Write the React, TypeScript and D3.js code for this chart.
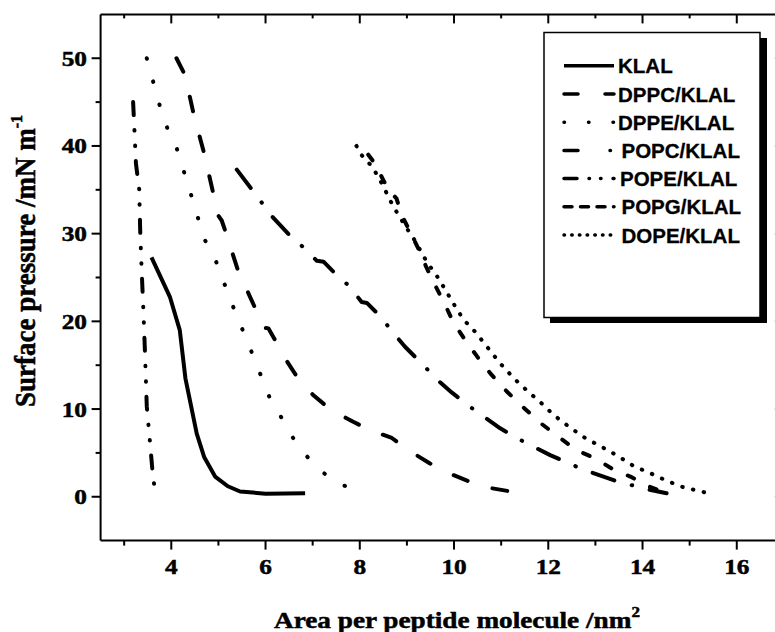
import React, { useEffect } from "react";
import * as d3 from "d3";

type Pt = [number, number];

const seriesNames = ["KLAL", "DPPC/KLAL", "DPPE/KLAL", "POPC/KLAL", "POPE/KLAL", "POPG/KLAL", "DOPE/KLAL"];

const klal: Pt[] = [[3.58, 27.3], [3.97, 22.8], [4.18, 19], [4.3, 13.5], [4.54, 7.2], [4.7, 4.5], [4.93, 2.3], [5.2, 1.2], [5.46, 0.6], [6.0, 0.35], [6.84, 0.4]];
const dppc: Pt[] = [[4.11, 50], [4.29, 48.1], [4.48, 43.5], [4.7, 39.1], [4.89, 34.6], [4.98, 32.2], [5.07, 31.5], [5.14, 30.4], [5.41, 25.9], [5.78, 21.5], [5.95, 19.3], [6.06, 19.2], [6.2, 17.9], [6.46, 15.4], [6.7, 13.4], [7.01, 11.6], [7.39, 9.9], [7.86, 8.55], [8.22, 7.6], [8.68, 6.7], [9.03, 5.3], [9.49, 3.8], [9.88, 2.7], [10.34, 1.7], [10.69, 1.07], [11.15, 0.65], [11.33, 0.54]];
const dppe: Pt[] = [[3.48, 50], [3.76, 44.5], [3.95, 41.5], [4.1, 40], [4.41, 34.6], [4.7, 29.4], [4.91, 27.4], [5.28, 22.1], [5.69, 16.7], [6.08, 11.4], [6.36, 8.8], [6.65, 6.1], [7.05, 3.5], [7.52, 1.5], [8.02, 0.7]];
const popc: Pt[] = [[5.39, 37.3], [5.73, 34.9], [6.15, 31.9], [6.53, 29.7], [6.79, 28.5], [7.09, 26.9], [7.23, 26.8], [7.47, 25.5], [7.78, 24.0], [8.04, 22.2], [8.15, 22.1], [8.43, 20.6], [8.68, 18.9], [8.96, 17.1], [9.35, 15.0], [9.63, 13.4], [9.95, 11.9], [10.38, 10.1], [10.98, 7.8], [11.4, 6.5], [12.04, 4.75], [12.74, 3.1], [13.49, 1.7], [14.12, 0.84], [14.51, 0.39]];
const pope: Pt[] = [[3.19, 45], [3.22, 41.6], [3.25, 38], [3.32, 35], [3.34, 30.4], [3.37, 26], [3.41, 21], [3.44, 16.7], [3.48, 10.3], [3.55, 6.1], [3.6, 3], [3.64, 1.2]];
const popg: Pt[] = [[8.18, 39], [8.32, 38], [8.5, 36.1], [8.61, 35], [8.78, 34], [8.89, 32.1], [9.07, 30.2], [9.26, 28.1], [9.41, 26.2], [9.6, 24.1], [9.81, 21.9], [9.98, 19.95], [10.23, 17.9], [10.49, 16.0], [10.78, 14.0], [11.12, 12.0], [11.49, 10.1], [11.86, 8.3], [12.25, 6.7], [12.6, 5.3], [12.99, 4.4], [13.35, 3.2], [13.74, 2.3], [14.12, 1.2], [14.5, 0.4]];
const dope: Pt[] = [[7.93, 40], [8.03, 39], [8.27, 37.6], [8.47, 35.7], [8.7, 33.2], [8.95, 31], [9.17, 29.2], [9.42, 26.8], [9.67, 24.9], [9.98, 22.1], [10.2, 20.2], [10.45, 18.8], [10.73, 16.9], [10.98, 15.2], [11.29, 13.4], [11.61, 11.8], [11.79, 11.0], [12.12, 9.3], [12.46, 7.9], [12.78, 6.7], [13.13, 5.7], [13.49, 4.6], [13.81, 3.5], [14.16, 2.7], [14.48, 1.9], [14.83, 1.14], [15.18, 0.68], [15.35, 0.46]];

const seriesData: Pt[][] = [klal, dppc, dppe, popc, pope, popg, dope];

const xMajorTicks = [4, 6, 8, 10, 12, 14, 16];
const xMinorTicks = [3, 5, 7, 9, 11, 13, 15];
const yMajorTicks = [0, 10, 20, 30, 40, 50];
const yMinorTicks = [5, 15, 25, 35, 45];

const dashes = ["none", "15 26", "0.5 23.5", "23 18 0.5 18", "13 15 0.5 15 0.5 15", "7 18", "0.5 10.5"];
const legendDashes = ["none", "14 27", "0.5 24", "14 32 0.5 30", "13 12 0.5 11 0.5 12", "8 8.5", "0.5 7.2"];

export default function App() {
  useEffect(() => {
    document.body.style.margin = "0";
    document.body.style.overflow = "hidden";
  }, []);

  const W = 775, H = 632;
  const x = d3.scaleLinear().domain([2.5, 17]).range([100.6, 783.9]);
  const y = d3.scaleLinear().domain([-5, 55]).range([540.6, 14.4]);
  const line = d3.line<Pt>().x(d => x(d[0])).y(d => y(d[1]));

  const x0 = x(2.5), x1 = x(17), yb = y(-5), yt = y(55);
  const serif = "Liberation Serif";
  const sans = "Liberation Sans";

  const legX = 544, legY = 32.5, legW = 216, legH = 285;
  const rowBase = (i: number) => 73.3 + i * 28.2;
  const legendTextDx = [0, 0, 0, 3.5, 2, 3.5, 3.5];

  return (
    <svg width={W} height={H} style={{ position: "absolute", left: 0, top: 0, background: "#fff" }}>
      <rect x={0} y={0} width={W} height={H} fill="#fff" />
      {/* frame */}
      <g stroke="#000" strokeWidth={2} fill="none">
        <line x1={x0} y1={yb} x2={x1} y2={yb} />
        <line x1={x0} y1={yt} x2={x1} y2={yt} />
        <line x1={x0} y1={yt} x2={x0} y2={yb} />
        <line x1={x1} y1={yt} x2={x1} y2={yb} />
        {xMajorTicks.map(t => (
          <g key={"xm" + t}>
            <line x1={x(t)} y1={yb} x2={x(t)} y2={yb + 9} />
            <line x1={x(t)} y1={yt} x2={x(t)} y2={yt + 9} />
          </g>
        ))}
        {xMinorTicks.map(t => (
          <g key={"xn" + t}>
            <line x1={x(t)} y1={yb} x2={x(t)} y2={yb + 5} />
            <line x1={x(t)} y1={yt} x2={x(t)} y2={yt + 4} />
          </g>
        ))}
        {yMajorTicks.map(t => (
          <g key={"ym" + t}>
            <line x1={x0 - 9} y1={y(t)} x2={x0} y2={y(t)} />
            <line x1={x1 - 9} y1={y(t)} x2={x1} y2={y(t)} />
          </g>
        ))}
        {yMinorTicks.map(t => (
          <g key={"yn" + t}>
            <line x1={x0 - 5} y1={y(t)} x2={x0} y2={y(t)} />
            <line x1={x1 - 4} y1={y(t)} x2={x1} y2={y(t)} />
          </g>
        ))}
      </g>
      {/* tick labels */}
      <g fontFamily={serif} fontWeight="bold" fontSize={22} fill="#000" stroke="#000" strokeWidth={0.5}>
        {xMajorTicks.map(t => (
          <text key={"xl" + t} textAnchor="middle" transform={`translate(${x(t)},${574}) scale(1.15,1)`}>{t}</text>
        ))}
        {yMajorTicks.map(t => (
          <text key={"yl" + t} textAnchor="end" transform={`translate(${87},${y(t) + 7.5}) scale(1.15,1)`}>{t}</text>
        ))}
      </g>
      {/* axis titles */}
      <text fontFamily={serif} fontWeight="bold" fontSize={24} stroke="#000" strokeWidth={0.5} transform={`translate(274,627.5) scale(1.135,1)`}>
        Area per peptide molecule /nm<tspan fontSize={15} dy={-11}>2</tspan>
      </text>
      <text fontFamily={serif} fontWeight="bold" fontSize={27} stroke="#000" strokeWidth={0.5} transform={`translate(35,407) scale(1.1,1) rotate(-90)`}>
        Surface pressure /mN m<tspan fontSize={16} dy={-12}>-1</tspan>
      </text>
      {/* curves */}
      <g fill="none" stroke="#000" strokeWidth={4} strokeLinejoin="round">
        {seriesData.map((d, i) => (
          <path key={seriesNames[i]} d={line(d) || ""} strokeDasharray={dashes[i] === "none" ? undefined : dashes[i]} strokeLinecap={i === 0 ? "butt" : "round"} />
        ))}
      </g>
      {/* legend */}
      <rect x={legX + 6} y={legY + 5.5} width={legW + 1} height={legH} fill="#000" />
      <rect x={legX} y={legY} width={legW} height={legH} fill="#fff" stroke="#000" strokeWidth={1.5} />
      {seriesNames.map((n, i) => (
        <g key={"lg" + n}>
          <line x1={564} x2={614} y1={rowBase(i) - 7.5} y2={rowBase(i) - 7.5} stroke="#000" strokeWidth={3.5}
            strokeLinecap={i === 0 ? "butt" : "round"} strokeDasharray={legendDashes[i] === "none" ? undefined : legendDashes[i]} />
          <text x={618 + legendTextDx[i]} y={rowBase(i)} fontFamily={sans} fontWeight="bold" fontSize={20.5} stroke="#000" strokeWidth={0.3}>{n}</text>
        </g>
      ))}
    </svg>
  );
}
